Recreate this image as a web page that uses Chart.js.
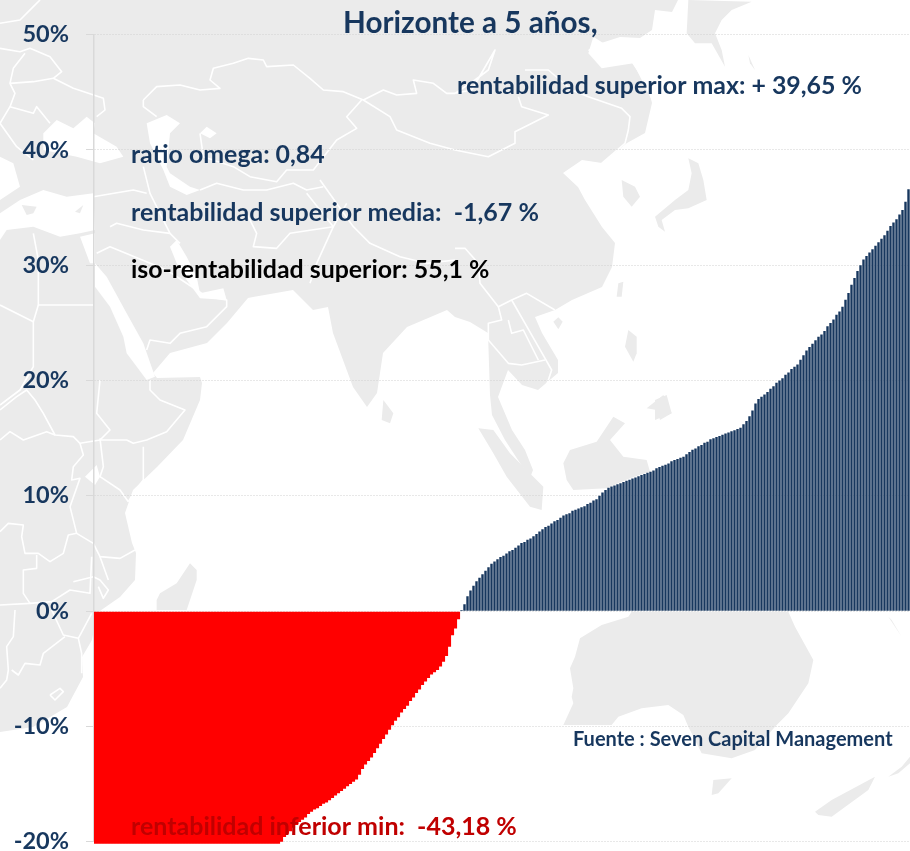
<!DOCTYPE html>
<html>
<head>
<meta charset="utf-8">
<title>Horizonte a 5 años</title>
<script src="https://cdn.jsdelivr.net/npm/chart.js@4/dist/chart.umd.min.js"></script>
<style>
  html, body { margin: 0; padding: 0; background: #fff; }
  canvas { display: block; }
</style>
</head>
<body>
<canvas id="horizonte" width="910" height="851"></canvas>
<script>
var tickLabels = [-20, -10, 0, 10, 20, 30, 40, 50];

// rentabilidades negativas, ordenadas (the first ones fall below the axis, only the min is printed)
var negativeValues = [
  -43.18,-40.5,-38.6,-37.4,-36.5,-35.8,-35.2,-34.7,-34.2,-33.8,
  -33.4,-33,-32.7,-32.4,-32.1,-31.8,-31.5,-31.2,-30.9,-30.6,
  -30.3,-30,-29.7,-29.5,-29.2,-29,-28.7,-28.5,-28.2,-28,
  -27.7,-27.5,-27.2,-27,-26.7,-26.4,-26.2,-25.9,-25.6,-25.4,
  -25.1,-24.8,-24.5,-24.2,-24,-23.7,-23.4,-23.1,-22.8,-22.5,
  -22.2,-22,-21.8,-21.6,-21.4,-21.2,-21,-20.8,-20.6,-20.4,-20.3,-20.2,
  -20,-19.6,-19.3,-19.1,-18.8,-18.55,-18.3,-18.1,-17.9,-17.6,
  -17.4,-17.2,-17.1,-16.9,-16.7,-16.6,-16.4,-16.2,-16,-15.8,
  -15.6,-15.4,-15.2,-15,-14.8,-14.6,-14.2,-13.7,-13.3,-13,
  -12.7,-12.3,-11.9,-11.5,-11.1,-10.7,-10.3,-9.9,-9.5,-9.2,
  -8.8,-8.5,-8.2,-7.8,-7.5,-7.1,-6.8,-6.4,-6.1,-5.8,
  -5.5,-5.3,-5.1,-4.8,-4.4,-3.9,-3.1,-2.1,-1.5,-0.7
];

// rentabilidades positivas
var positiveValues = [
  0.1,0.6,1.3,1.8,2.2,2.6,2.9,3.2,3.5,3.8,
  4.1,4.3,4.5,4.7,4.8,5.0,5.2,5.3,5.5,5.7,
  5.9,6.0,6.2,6.3,6.5,6.7,6.9,7.1,7.3,7.4,
  7.6,7.8,7.9,8.1,8.3,8.4,8.5,8.7,8.8,8.9,
  9.0,9.1,9.3,9.4,9.6,9.7,10.0,10.3,10.5,10.7,
  10.8,10.9,11.0,11.1,11.2,11.3,11.4,11.5,11.6,11.7,
  11.8,11.9,12.0,12.1,12.2,12.4,12.5,12.6,12.7,12.8,
  13.0,13.1,13.2,13.3,13.4,13.6,13.8,14.0,14.1,14.3,
  14.4,14.6,14.7,14.9,15.0,15.1,15.2,15.3,15.4,15.5,
  15.6,15.7,15.8,15.9,16.2,16.5,16.9,17.4,18.0,18.4,
  18.6,18.8,19.0,19.3,19.5,19.8,20.0,20.2,20.5,20.7,
  21.0,21.2,21.4,21.8,22.2,22.6,22.9,23.2,23.5,23.8,
  24.0,24.3,24.7,25.0,25.3,25.7,26.0,26.4,27.0,27.6,
  28.3,28.9,29.5,30.0,30.5,30.8,31.1,31.4,31.7,32.0,
  32.3,32.6,33.0,33.4,33.7,34.0,34.4,34.8,35.5,36.6
];

var NAVY = '#17375e';
var FONT = 'Lato, "Open Sans", sans-serif';

// text boxes placed on the chart: text, left, baseline, size, colour
var notes = [
  ['Horizonte a 5 años,', 343, 33, 29.7, NAVY],
  ['rentabilidad superior max: + 39,65 %', 457, 94, 24.9, NAVY],
  ['ratio omega: 0,84', 131, 163, 24.9, NAVY],
  ['rentabilidad superior media:  -1,67 %', 131, 221, 25, NAVY],
  ['iso-rentabilidad superior: 55,1 %', 131, 278, 24.9, '#000000'],
  ['rentabilidad inferior min:  -43,18 %', 131, 835, 25, '#c00000'],
  ['Fuente : Seven Capital Management', 573, 746, 20, NAVY]
];

// ---- background world map, traced by hand (not data) ----
var landMain = [0,0, 678,0, 672,12, 655,10, 652,30, 640,38, 620,37, 595,45, 588,50, 602,67, 632,63, 648,87, 652,103,
  645,133, 627,143, 602,163, 582,160, 563,173, 578,187, 585,200, 602,227, 615,243, 612,267, 602,287, 572,300,
  555,310, 535,317, 542,333, 558,360, 558,373, 538,390, 522,385, 508,370, 498,397, 512,430, 525,450, 533,470,
  530,478, 518,460, 505,440, 492,415, 490,395, 488,333, 470,322, 455,317, 447,310, 407,327, 383,353, 377,393,
  367,407, 353,387, 343,360, 333,333, 328,307, 313,310, 293,290, 253,297, 248,298, 227,323, 207,343, 170,353,
  153,373, 157,378, 200,377, 202,383, 200,400, 183,440, 157,467, 133,490, 125,513, 132,543, 136,553, 135,580,
  120,597, 97,613, 92,640, 82,657, 83,677, 67,707, 33,727, 0,732];

// [offsetX, offsetY, zoomed points]
var seas = [
  [0,0,[0,640,60,600,130,570,200,590,280,580,285,690,240,700,180,710,100,680,20,690,0,720]],
  [0,0,[130,400,170,360,220,385,260,350,285,370,280,400,350,440,370,470,300,490,230,470,130,450]],
  [0,0,[0,470,40,490,60,560,0,600]],
  [0,0,[440,370,500,345,540,370,510,400,500,500,510,520,570,560,600,570,560,585,510,560,490,510,450,430]],
  [0,0,[620,380,650,400,630,415,600,400]],
  [0,0,[670,865,600,880,590,830,560,770,530,720,510,740,530,790,560,840,600,895,680,900]],
  [0,0,[285,790,320,830,380,940,430,1030,465,1130,440,1140,380,1060,370,1010,330,920,285,860]],
  [0,0,[240,710,285,700,285,790,270,790]],
  [455,0,[415,110,540,190,640,260,680,370,760,420,690,440,640,340,590,300,535,190,440,205,400,160]],
  [0,380,[255,290,290,255,300,290,285,315]]
];

var islands = [
  [0,0,[65,615,110,620,100,640,80,645]],
  [0,0,[225,635,250,615,240,640]],
  [455,0,[700,0,890,5,830,30,800,60,780,100,800,150,810,200,770,130,720,130,695,100]],
  [455,0,[500,540,540,560,555,590,530,620,505,590]],
  [455,0,[700,475,730,490,745,540,755,600,700,625,660,630,620,660,630,695,610,680,600,650,660,600,700,570,710,520]],
  [455,0,[880,165,900,210,885,190]],
  [455,0,[490,850,505,845,500,890,485,890]],
  [455,0,[295,965,310,952,323,965,310,988]],
  [455,0,[520,990,545,1010,545,1060,535,1085,510,1040]],
  [455,0,[600,1200,635,1185,650,1240,600,1260]],
  [0,0,[1150,1200,1180,1240,1170,1270,1145,1260]],
  [450,400,[340,190,360,150,440,125,490,50,525,70,480,120,520,170,590,180,600,215,540,235,470,265,370,270,350,240]],
  [450,400,[85,85,130,90,180,160,250,230,280,260,275,330,240,320,170,230,130,160]],
  [640,350,[20,175,70,135,95,190,60,210,50,180]],
  [0,380,[470,660,480,640,530,610,570,550,590,570,590,600,560,690,470,690]],
  [455,600,[530,35,1000,35,1020,80,1075,180,1060,250,1000,340,960,380,900,450,830,475,740,460,700,380,685,345,640,315,560,325,490,350,470,375,325,375,355,310,350,290,355,265,345,205,360,170,375,115,440,75,520,50]],
  [455,600,[775,540,830,535,790,580,770,585]],
  [455,600,[1080,635,1130,600,1260,530,1240,570,1130,650,1090,645]],
  [455,600,[1300,530,1340,500,1365,470,1365,490,1330,520]],
  [455,600,[1300,50,1340,110,1310,60]]
];

var borders = [
  [0,0,[430,300,470,260,540,255,600,270,660,265,630,240,640,205,700,190,745,175,790,180,800,200,880,195,930,235,970,270,1030,275,1090,300,1150,270,1190,285,1250,280,1240,240,1300,250,1340,280,1365,280]],
  [455,0,[0,280,50,270,120,150,100,210,60,240,0,280]],
  [455,0,[190,290,200,320,280,345,180,395,180,430,100,470,0,450]],
  [455,0,[210,210,280,210,350,270,400,290,500,325,525,350,520,390,510,430,440,490]],
  [0,0,[1090,300,1170,350,1190,390,1290,430,1365,450]],
  [0,0,[430,300,430,320,470,350]],
  [0,0,[600,400,610,470,700,500,750,530,830,545,860,510,940,510,1010,420,1070,385,1040,350,1085,300]],
  [0,0,[430,500,450,580,510,700,540,730]],
  [0,0,[600,570,650,550,730,570,800,570,880,550,920,570,970,560]],
  [0,0,[740,640,770,700,760,740,830,745,870,700,1000,680,1040,610]],
  [0,0,[920,580,1000,680,950,790,930,850]],
  [0,0,[960,540,1060,680,1110,730,1200,770,1280,790,1365,780]],
  [0,0,[280,590,400,570,440,580]],
  [0,0,[330,680,350,670,430,690,510,700]],
  [0,0,[290,760,330,740,500,810,590,870,620,890,680,900,680,920,620,980,540,1000,510,1030,450,1020,440,1050]],
  [0,0,[100,700,115,780,115,915,280,915]],
  [0,0,[0,915,100,965,115,915]],
  [0,0,[100,965,100,1100,60,1170,20,1200,0,1215]],
  [0,0,[0,70,60,60,100,20,120,0]],
  [0,0,[0,145,60,155,90,145,150,170,185,215,160,235,220,265,310,295,315,330,290,350]],
  [0,0,[75,160,40,205,30,250,45,280,30,320,0,370]],
  [0,0,[30,250,100,245,160,235]],
  [0,0,[30,320,100,340,110,320,150,370]],
  [0,0,[0,370,50,440,100,480]],
  [0,380,[0,90,50,50,80,30,105,60,130,100,165,165,220,170,240,190,300,180,380,180,400,190,440,180,500,155,555,90,480,60,450,30,450,0]],
  [0,380,[300,0,290,100,330,150,300,180]],
  [0,380,[0,180,30,155,70,180,140,155,165,165]],
  [0,380,[240,190,250,225,220,260,215,300,240,295,210,380,230,460,280,490,300,530,360,535,405,510]],
  [0,380,[300,175,310,260,300,290,360,330,385,365]],
  [0,380,[430,200,430,300,400,340,385,365]],
  [0,380,[230,460,205,465,190,520,150,545,115,520,75,520,65,470,70,435,25,430,0,455]],
  [0,380,[110,525,110,565,70,570,70,640,90,670,0,675]],
  [0,380,[90,670,155,665,210,630,270,640,275,530]],
  [0,380,[220,605,280,590,300,600,325,630,310,655,295,620]],
  [0,380,[300,530,325,600]],
  [0,380,[45,690,40,770,20,800,25,870,20,900,0,925]],
  [0,380,[155,690,190,765,235,775,275,700]],
  [0,380,[195,770,130,820,120,855,75,850,55,885,35,870]],
  [0,380,[235,775,245,820,245,880]],
  [0,380,[150,945,180,925,190,935,165,960,150,945]],
  [455,0,[0,745,30,745,70,790,75,850,130,920,170,900,215,880,300,930]],
  [455,0,[170,900,250,1040,290,1110,270,1170]],
  [455,0,[130,920,140,960,100,970,100,1020,160,1090,200,1095,270,1080]],
  [455,0,[160,960,170,1000,205,990,250,1080]]
];

function tracePath(ctx, pts, ox, oy, s) {
  ctx.beginPath();
  for (var i = 0; i < pts.length; i += 2) {
    var x = ox + pts[i] / s, y = oy + pts[i + 1] / s;
    if (i === 0) ctx.moveTo(x, y); else ctx.lineTo(x, y);
  }
}

var mapBackground = {
  id: 'mapBackground',
  beforeDraw: function(chart) {
    var ctx = chart.ctx;
    ctx.save();
    ctx.fillStyle = '#ebebeb';
    tracePath(ctx, landMain, 0, 0, 1);
    ctx.closePath();
    ctx.fill();
    ctx.fillStyle = '#ffffff';
    seas.forEach(function(p) {
      tracePath(ctx, p[2], p[0], p[1], 3);
      ctx.closePath();
      ctx.fill();
    });
    ctx.fillStyle = '#ebebeb';
    islands.forEach(function(p) {
      tracePath(ctx, p[2], p[0], p[1], 3);
      ctx.closePath();
      ctx.fill();
    });
    ctx.strokeStyle = '#ffffff';
    ctx.lineWidth = 1.6;
    ctx.lineJoin = 'round';
    borders.forEach(function(p) {
      tracePath(ctx, p[2], p[0], p[1], 3);
      ctx.stroke();
    });
    ctx.restore();
  }
};

var chartNotes = {
  id: 'chartNotes',
  afterDatasetsDraw: function(chart) {
    var ctx = chart.ctx;
    ctx.save();
    ctx.textAlign = 'left';
    ctx.textBaseline = 'alphabetic';
    notes.forEach(function(n) {
      ctx.font = 'bold ' + n[3] + 'px ' + FONT;
      ctx.fillStyle = n[4];
      ctx.fillText(n[0], n[1], n[2]);
    });
    ctx.restore();
  }
};

var labels = [];
negativeValues.concat(positiveValues).forEach(function(v, i) { labels.push(String(i + 1)); });

var ctx = document.getElementById('horizonte').getContext('2d');
var chart = new Chart(ctx, {
  type: 'bar',
  data: {
    labels: labels,
    datasets: [{
      label: 'Inferior',
      data: negativeValues.concat(positiveValues.map(function() { return null; })),
      backgroundColor: '#ff0000',
      barPercentage: 1.05,
      categoryPercentage: 1,
      grouped: false,
      clip: { left: 0, top: 0, right: 0, bottom: 2 }
    }, {
      label: 'Superior',
      data: negativeValues.map(function() { return null; }).concat(positiveValues),
      backgroundColor: NAVY,
      barPercentage: 0.8,
      categoryPercentage: 1,
      grouped: false
    }]
  },
  options: {
    responsive: false,
    animation: false,
    layout: { padding: { left: 0, right: 0, top: 34.7, bottom: 9.3 } },
    plugins: {
      legend: { display: false },
      title: { display: false },
      tooltip: { enabled: false }
    },
    scales: {
      x: { display: false },
      y: {
        min: -20,
        max: 50,
        afterBuildTicks: function(axis) {
          axis.ticks = tickLabels.map(function(v) { return { value: v }; });
        },
        afterFit: function(axis) {
          axis.width = 94;
          axis.paddingTop = 0;
          axis.paddingBottom = 0;
        },
        border: { color: '#d9d9d9', width: 1.5, dash: [1, 2] },
        grid: {
          color: '#d0d0d0',
          tickColor: '#d9d9d9',
          tickLength: 8,
          tickBorderDash: [],
          lineWidth: 1
        },
        ticks: {
          padding: 17,
          color: NAVY,
          font: { family: FONT, size: 23.5, weight: 'bold' },
          callback: function(v) { return v + '%'; }
        }
      }
    }
  },
  plugins: [mapBackground, chartNotes]
});
</script>
</body>
</html>
